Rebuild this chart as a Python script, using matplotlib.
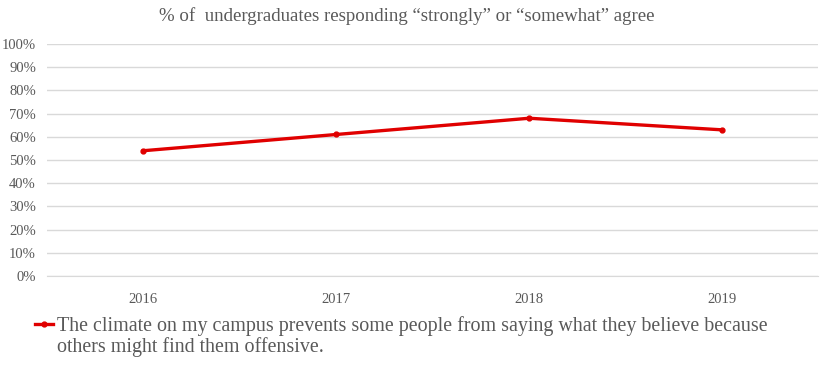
import numpy as np
import matplotlib.pyplot as plt

years = ['2016', '2017', '2018', '2019']
agree = [54, 61, 68, 63]
label_line1 = 'The climate on my campus prevents some people from saying what they believe because'
label_line2 = 'others might find them offensive.'
title = '% of  undergraduates responding \u201cstrongly\u201d or \u201csomewhat\u201d agree'

plt.rcParams['font.family'] = ['Liberation Serif', 'DejaVu Serif']
grey = '#595959'

fig = plt.figure(figsize=(8.28, 3.77), dpi=100)
ax = fig.add_axes([47 / 828, 1 - 276 / 377, 771.5 / 828, 232 / 377])

x = np.arange(len(years))
ax.plot(x, agree, color='#E00000', lw=2.4, marker='o', ms=3.5, label=label_line1)

ax.set_xlim(-0.5, len(years) - 0.5)
ax.set_ylim(0, 100)
ax.set_yticks(np.arange(0, 101, 10))
ax.set_yticklabels([f'{v}%' for v in range(0, 101, 10)])
ax.set_xticks(x)
ax.set_xticklabels(years)
ax.grid(axis='y', color='#D9D9D9', lw=1)
ax.set_axisbelow(True)
for s in ['top', 'right', 'left']:
    ax.spines[s].set_visible(False)
ax.spines['bottom'].set_color('#D9D9D9')
ax.tick_params(length=0, colors=grey, labelsize=10.5)
ax.tick_params(axis='x', pad=12)
ax.tick_params(axis='y', pad=8)

fig.text(407 / 828, 1 - 16 / 377, title, ha='center', va='center', fontsize=13.6, color=grey)

leg = ax.legend(loc='center left', bbox_to_anchor=(35 / 828, 1 - 326 / 377),
                bbox_transform=fig.transFigure, frameon=False, fontsize=14.4,
                handlelength=0.9, handletextpad=0.2, borderpad=0, borderaxespad=0)
leg_text = leg.get_texts()[0]
leg_text.set_color(grey)

# second line of the legend label, aligned under the first
fig.canvas.draw()
bb = leg_text.get_window_extent().transformed(fig.transFigure.inverted())
fig.text(bb.x0, 1 - 347 / 377, label_line2, ha='left', va='center', fontsize=14.4, color=grey)

fig.savefig('out.png', dpi=100)
